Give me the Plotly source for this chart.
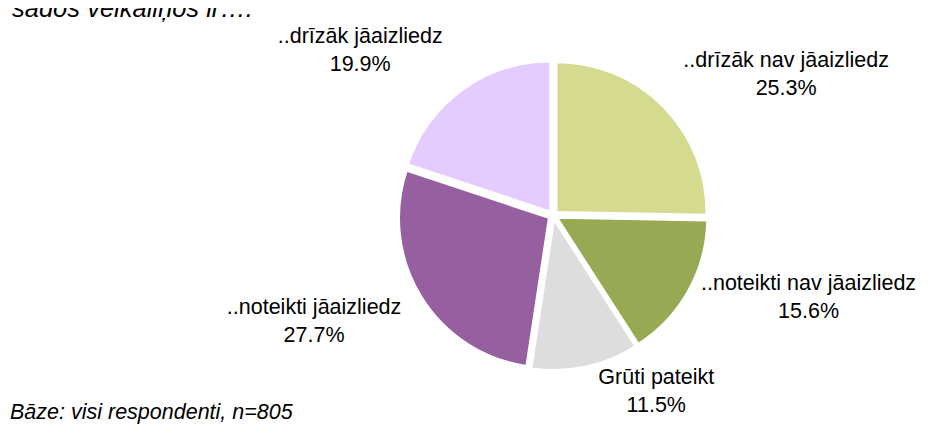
import plotly.graph_objects as go

labels = ["..drīzāk nav jāaizliedz", "..noteikti nav jāaizliedz", "Grūti pateikt",
          "..noteikti jāaizliedz", "..drīzāk jāaizliedz"]
values = [25.3, 15.6, 11.5, 27.7, 19.9]
colors = ["#D4DB8F", "#97A952", "#DDDDDD", "#9660A0", "#E4CCFF"]
title_text = "šādos veikaliņos ir…."
note_text = "Bāze: visi respondenti, n=805"

W, H = 931, 429
cx, cy, R = 548, 201, 159
FONT = "Liberation Sans, Arial, sans-serif"

# label templates: blank line above/below nudges the outside labels like the original layout
templates = [
    "%{label}<br>%{value:.1f}%<br> ",
    "%{label}<br>%{value:.1f}%",
    "%{label}<br>%{value:.1f}%",
    " <br>%{label}<br>%{value:.1f}%",
    "%{label}<br>%{value:.1f}%<br> ",
]

fig = go.Figure(go.Pie(
    labels=labels,
    values=values,
    sort=False,
    direction="clockwise",
    rotation=0,
    marker=dict(colors=colors, line=dict(color="white", width=1.5)),
    pull=[0.035] * len(values),
    texttemplate=templates,
    textposition="outside",
    textfont=dict(family=FONT, size=21.5, color="black"),
    domain=dict(x=[(cx - R) / W, (cx + R) / W], y=[(H - cy - R) / H, (H - cy + R) / H]),
    showlegend=False,
    hoverinfo="skip",
))

fig.update_layout(
    width=W, height=H,
    margin=dict(l=0, r=0, t=0, b=0),
    paper_bgcolor="white",
    plot_bgcolor="white",
    annotations=[
        dict(text=title_text, xref="paper", yref="paper", x=2 / W, y=(H + 12) / H,
             xanchor="left", yanchor="middle", showarrow=False,
             font=dict(family=FONT, size=25.5, color="black", style="italic")),
        dict(text=note_text, xref="paper", yref="paper", x=0 / W, y=(H - 403) / H,
             xanchor="left", yanchor="middle", showarrow=False,
             font=dict(family=FONT, size=21.5, color="black", style="italic")),
    ],
)

fig.write_html("out.html")
